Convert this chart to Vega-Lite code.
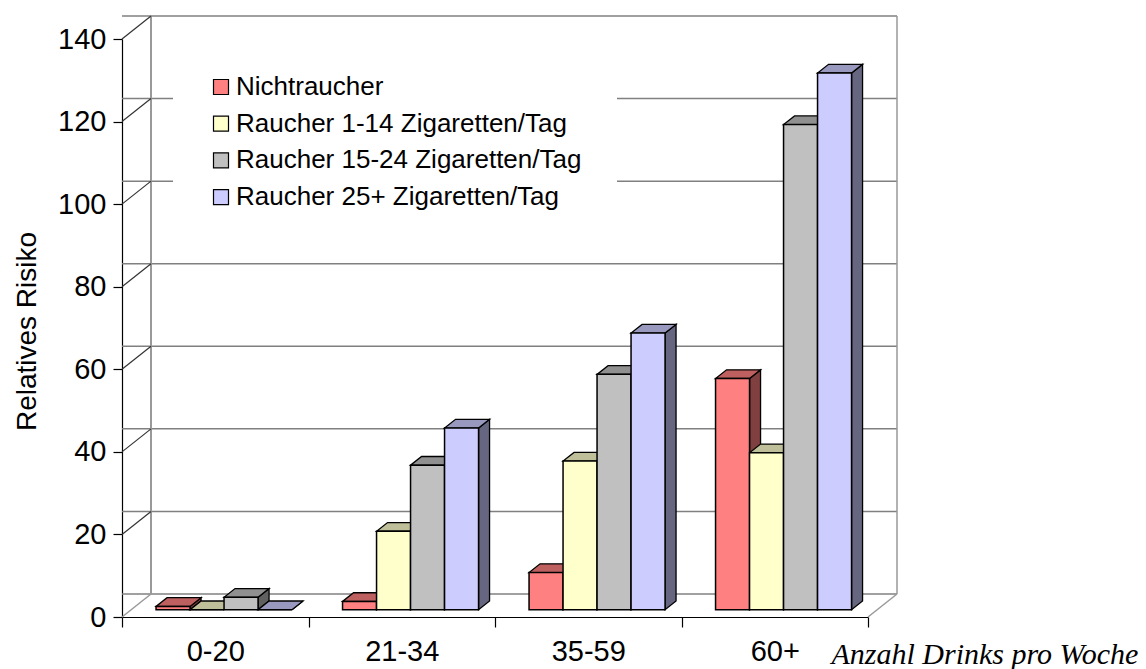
{
  "$schema": "https://vega.github.io/schema/vega-lite/v6.json",
  "width": 746,
  "height": 578,
  "autosize": {"type": "none"},
  "padding": {"left": 122, "top": 39, "right": 278, "bottom": 52},
  "background": "white",
  "config": {"view": {"stroke": null}, "font": "Liberation Sans"},
  "datasets": {
    "bars": [
      {"cat": "0-20", "series": "Nichtraucher", "risk": 0.8},
      {"cat": "0-20", "series": "Raucher 1-14 Zigaretten/Tag", "risk": 0},
      {"cat": "0-20", "series": "Raucher 15-24 Zigaretten/Tag", "risk": 3},
      {"cat": "0-20", "series": "Raucher 25+ Zigaretten/Tag", "risk": 0},
      {"cat": "21-34", "series": "Nichtraucher", "risk": 2},
      {"cat": "21-34", "series": "Raucher 1-14 Zigaretten/Tag", "risk": 19},
      {"cat": "21-34", "series": "Raucher 15-24 Zigaretten/Tag", "risk": 35},
      {"cat": "21-34", "series": "Raucher 25+ Zigaretten/Tag", "risk": 44},
      {"cat": "35-59", "series": "Nichtraucher", "risk": 9},
      {"cat": "35-59", "series": "Raucher 1-14 Zigaretten/Tag", "risk": 36},
      {"cat": "35-59", "series": "Raucher 15-24 Zigaretten/Tag", "risk": 57},
      {"cat": "35-59", "series": "Raucher 25+ Zigaretten/Tag", "risk": 67},
      {"cat": "60+", "series": "Nichtraucher", "risk": 56},
      {"cat": "60+", "series": "Raucher 1-14 Zigaretten/Tag", "risk": 38},
      {"cat": "60+", "series": "Raucher 15-24 Zigaretten/Tag", "risk": 117.5},
      {"cat": "60+", "series": "Raucher 25+ Zigaretten/Tag", "risk": 130}
    ],
    "grid": [{"v": 0}, {"v": 20}, {"v": 40}, {"v": 60}, {"v": 80}, {"v": 100}, {"v": 120}, {"v": 140}],
    "one": [{"k": 1}]
  },
  "resolve": {"scale": {"fill": "independent"}},
  "layer": [
    {
      "data": {"name": "bars"},
      "mark": {"type": "bar", "stroke": "black", "strokeWidth": 1.5, "yOffset": -7.3, "y2Offset": -7.3, "opacity": 0},
      "encoding": {
        "x": {
          "field": "cat", "type": "nominal",
          "scale": {"domain": ["0-20", "21-34", "35-59", "60+"], "paddingInner": 0, "paddingOuter": 0},
          "axis": {
            "title": "Anzahl Drinks pro Woche",
            "titleFont": "Liberation Serif", "titleFontStyle": "italic", "titleFontWeight": "normal",
            "titleFontSize": 30, "titleColor": "black", "titleAlign": "left", "titleAnchor": null,
            "titleX": 709, "titleY": 46, "titleBaseline": "alphabetic",
            "labelFont": "Liberation Sans", "labelFontSize": 29, "labelColor": "black", "labelAngle": 0,
            "labelBaseline": "alphabetic", "labelPadding": 33, "tickSize": 10, "tickBand": "extent",
            "domainColor": "black", "tickColor": "black", "domainWidth": 1.2, "tickWidth": 1.2, "grid": false
          }
        },
        "xOffset": {
          "field": "series", "type": "nominal",
          "scale": {"domain": ["Nichtraucher", "Raucher 1-14 Zigaretten/Tag", "Raucher 15-24 Zigaretten/Tag", "Raucher 25+ Zigaretten/Tag"], "range": [8.8, 195.3], "paddingInner": 0, "paddingOuter": 0.7426}
        },
        "y": {
          "field": "risk", "type": "quantitative",
          "scale": {"domain": [0, 140], "nice": false},
          "axis": {
            "title": "Relatives Risiko", "values": [0, 20, 40, 60, 80, 100, 120, 140],
            "titleFont": "Liberation Sans", "titleFontSize": 28, "titleFontWeight": "normal", "titleColor": "black",
            "titleX": -87, "titleY": 292, "titleAngle": 270, "titleBaseline": "alphabetic", "titleAlign": "center", "titleAnchor": null,
            "labelFont": "Liberation Sans", "labelFontSize": 29, "labelColor": "black", "labelPadding": 7, "tickSize": 9,
            "domainColor": "black", "tickColor": "black", "domainWidth": 1.2, "tickWidth": 1.2, "grid": false
          }
        }
      }
    },
    {
      "data": {"name": "grid"},
      "mark": {"type": "rule", "color": "#808080", "strokeWidth": 1.5, "xOffset": 29, "x2Offset": 29, "yOffset": -23},
      "encoding": {
        "y": {"field": "v", "type": "quantitative"}
      }
    },
    {
      "data": {"name": "one"},
      "mark": {"type": "rule", "color": "#999999", "strokeWidth": 2, "xOffset": 29, "yOffset": -23, "y2Offset": -23},
      "encoding": {
        "x": {"datum": "0-20", "type": "nominal", "bandPosition": 0},
        "y": {"datum": 0, "type": "quantitative"},
        "y2": {"datum": 140}
      }
    },
    {
      "data": {"name": "one"},
      "mark": {"type": "rule", "color": "#999999", "strokeWidth": 1.5, "xOffset": 29, "yOffset": -23, "y2Offset": -23},
      "encoding": {
        "x": {"datum": "60+", "type": "nominal", "bandPosition": 1},
        "y": {"datum": 0, "type": "quantitative"},
        "y2": {"datum": 140}
      }
    },
    {
      "data": {"name": "grid"},
      "transform": [{"filter": "datum.v > 0"}],
      "mark": {"type": "point", "shape": "M0,0L29,-23", "size": 4, "filled": false, "stroke": "#333333", "strokeWidth": 1.2, "opacity": 1},
      "encoding": {
        "x": {"datum": "0-20", "type": "nominal", "bandPosition": 0},
        "y": {"field": "v", "type": "quantitative"}
      }
    },
    {
      "data": {"name": "one"},
      "mark": {"type": "point", "shape": "M0,0L29,-23", "size": 4, "filled": false, "stroke": "#999999", "strokeWidth": 1.5, "opacity": 1},
      "encoding": {
        "x": {"datum": "0-20", "type": "nominal", "bandPosition": 0},
        "y": {"datum": 0, "type": "quantitative"}
      }
    },
    {
      "data": {"name": "one"},
      "mark": {"type": "point", "shape": "M0,0L29,-23", "size": 4, "filled": false, "stroke": "#999999", "strokeWidth": 1.5, "opacity": 1},
      "encoding": {
        "x": {"datum": "60+", "type": "nominal", "bandPosition": 1},
        "y": {"datum": 0, "type": "quantitative"}
      }
    },
    {
      "data": {"name": "bars"},
      "mark": {
        "type": "point",
        "shape": {"expr": "'M17,0L28,-8.7L28,' + (scale('y', 0) - scale('y', datum.risk) - 8.7) + 'L17,' + (scale('y', 0) - scale('y', datum.risk)) + 'Z'"},
        "size": 4, "filled": true, "opacity": 1, "stroke": "black", "strokeWidth": 1.3, "yOffset": -7.3
      },
      "encoding": {
        "x": {"field": "cat", "type": "nominal"},
        "xOffset": {"field": "series", "type": "nominal"},
        "y": {"field": "risk", "type": "quantitative"},
        "fill": {"field": "series", "type": "nominal", "scale": {"domain": ["Nichtraucher", "Raucher 1-14 Zigaretten/Tag", "Raucher 15-24 Zigaretten/Tag", "Raucher 25+ Zigaretten/Tag"], "range": ["#804040", "#808066", "#606060", "#666680"]}, "legend": null}
      }
    },
    {
      "data": {"name": "bars"},
      "mark": {
        "type": "point",
        "shape": "M-17,0L17,0L28,-8.7L-6,-8.7Z",
        "size": 4, "filled": true, "opacity": 1, "stroke": "black", "strokeWidth": 1.3, "yOffset": -7.3
      },
      "encoding": {
        "x": {"field": "cat", "type": "nominal"},
        "xOffset": {"field": "series", "type": "nominal"},
        "y": {"field": "risk", "type": "quantitative"},
        "fill": {"field": "series", "type": "nominal", "scale": {"domain": ["Nichtraucher", "Raucher 1-14 Zigaretten/Tag", "Raucher 15-24 Zigaretten/Tag", "Raucher 25+ Zigaretten/Tag"], "range": ["#bf6060", "#bfbf99", "#909090", "#9999bf"]}, "legend": null}
      }
    },
    {
      "data": {"name": "bars"},
      "mark": {"type": "bar", "stroke": "black", "strokeWidth": 1.5, "yOffset": -7.3, "y2Offset": -7.3},
      "encoding": {
        "x": {"field": "cat", "type": "nominal"},
        "xOffset": {"field": "series", "type": "nominal"},
        "y": {"field": "risk", "type": "quantitative"},
        "color": {
          "field": "series", "type": "nominal",
          "scale": {"domain": ["Nichtraucher", "Raucher 1-14 Zigaretten/Tag", "Raucher 15-24 Zigaretten/Tag", "Raucher 25+ Zigaretten/Tag"], "range": ["#ff8080", "#ffffcc", "#c0c0c0", "#ccccff"]},
          "legend": {
            "title": null, "orient": "none", "legendX": 51, "legendY": 0, "padding": 35, "fillColor": "white",
            "labelFont": "Liberation Sans", "labelFontSize": 26, "labelColor": "black", "labelLimit": 600,
            "symbolType": "square", "symbolSize": 225, "symbolStrokeColor": "black", "symbolStrokeWidth": 1.2,
            "symbolOpacity": 1, "rowPadding": 10.7, "labelOffset": 2
          }
        }
      }
    }
  ]
}
